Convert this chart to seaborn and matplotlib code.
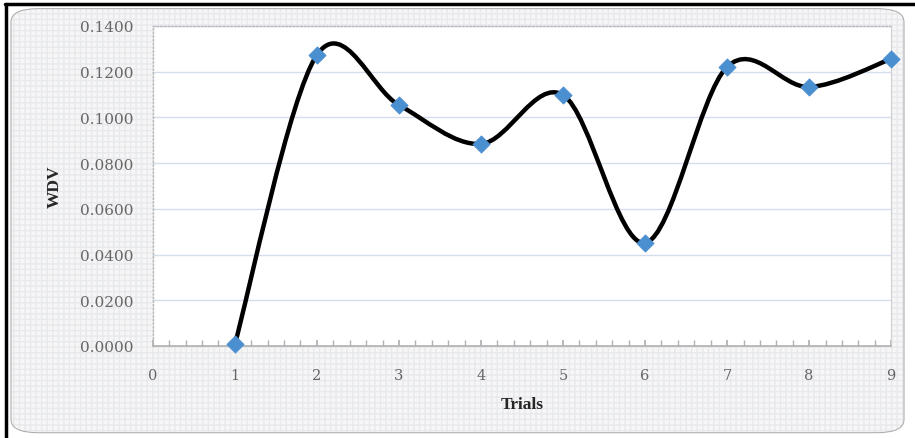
import numpy as np
import pandas as pd
import matplotlib
matplotlib.use("Agg")
import matplotlib.pyplot as plt
import seaborn as sns
from matplotlib.path import Path
from matplotlib.patches import PathPatch, FancyBboxPatch
from matplotlib.ticker import MultipleLocator

# values
trials = [1, 2, 3, 4, 5, 6, 7, 8, 9]
wdv = [0.0008, 0.1273, 0.1054, 0.0884, 0.1098, 0.0451, 0.1221, 0.1133, 0.1256]
y_ticks = [0.0, 0.02, 0.04, 0.06, 0.08, 0.10, 0.12, 0.14]
x_ticks = [0, 1, 2, 3, 4, 5, 6, 7, 8, 9]

df = pd.DataFrame({"Trials": trials, "WDV": wdv})

sns.set_theme(style="white")
plt.rcParams["font.family"] = ["Liberation Serif", "DejaVu Serif"]

fig = plt.figure(figsize=(9.15, 4.39), dpi=100)
fig.patch.set_facecolor("white")

# dotted grey chart background with rounded border
box = dict(boxstyle="round,pad=0,rounding_size=0.03", transform=fig.transFigure)
bg = FancyBboxPatch((0.012, 0.012), 0.976, 0.966, facecolor="#f6f6f7", edgecolor="#e8e9ec",
                    hatch="+++", linewidth=0, zorder=-2, **box)
fig.patches.append(bg)
border = FancyBboxPatch((0.012, 0.012), 0.976, 0.966, facecolor="none", edgecolor="#a8a8a8",
                        linewidth=0.7, zorder=-1, **box)
fig.patches.append(border)
# black frame at top and left
fig.add_artist(plt.Line2D([0.006, 1.0], [0.988, 0.988], transform=fig.transFigure, color="black", lw=2.5))
fig.add_artist(plt.Line2D([0.007, 0.007], [0.0, 0.988], transform=fig.transFigure, color="black", lw=2.5))

ax = fig.add_axes([0.167, 0.2096, 0.807, 0.729])
ax.set_zorder(2)
ax.set_facecolor("white")

# smoothed line (Catmull-Rom style bezier, like Excel's smoothed line)
x = np.array(df["Trials"], dtype=float)
y = np.array(df["WDV"], dtype=float)
verts = [(x[0], y[0])]
codes = [Path.MOVETO]
n = len(x)
for i in range(n - 1):
    p0 = (x[max(i - 1, 0)], y[max(i - 1, 0)])
    p1 = (x[i], y[i])
    p2 = (x[i + 1], y[i + 1])
    p3 = (x[min(i + 2, n - 1)], y[min(i + 2, n - 1)])
    c1 = (p1[0] + (p2[0] - p0[0]) / 6, p1[1] + (p2[1] - p0[1]) / 6)
    c2 = (p2[0] - (p3[0] - p1[0]) / 6, p2[1] - (p3[1] - p1[1]) / 6)
    verts += [c1, c2, p2]
    codes += [Path.CURVE4] * 3
ax.add_patch(PathPatch(Path(verts, codes), facecolor="none", edgecolor="black", lw=3.2, zorder=3))

sns.scatterplot(data=df, x="Trials", y="WDV", marker="D", s=75, color="#4a8fd0",
                edgecolor="#4a8fd0", ax=ax, zorder=4, clip_on=False)

ax.set_xlim(0, 9)
ax.set_ylim(0, 0.14)
ax.set_xticks(x_ticks)
ax.set_yticks(y_ticks)
ax.set_yticklabels([f"{v:.4f}" for v in y_ticks])
ax.xaxis.set_minor_locator(MultipleLocator(0.2))
ax.tick_params(axis="x", which="both", direction="in", length=4, color="#b0b0b0", labelsize=10.5,
               labelcolor="#666666", pad=16, bottom=True)
ax.tick_params(axis="y", which="both", length=0, labelsize=11, labelcolor="#666666", pad=14)
for lab in ax.get_xticklabels() + ax.get_yticklabels():
    lab.set_fontfamily("DejaVu Serif")
ax.grid(axis="y", color="#d5dced", lw=1)
ax.set_axisbelow(True)

for side in ["left", "top"]:
    ax.spines[side].set_color("#b8b8b8")
    ax.spines[side].set_linestyle(":")
    ax.spines[side].set_linewidth(1)
ax.spines["right"].set_color("#d0d0d0")
ax.spines["right"].set_linewidth(0.8)
ax.spines["bottom"].set_color("#b0b0b0")
ax.spines["bottom"].set_linewidth(1.2)

ax.set_xlabel("Trials", fontsize=12.5, fontweight="bold", labelpad=10)
ax.set_ylabel("WDV", fontsize=12.5, fontweight="bold", labelpad=12)

fig.savefig("out.png", dpi=100)
